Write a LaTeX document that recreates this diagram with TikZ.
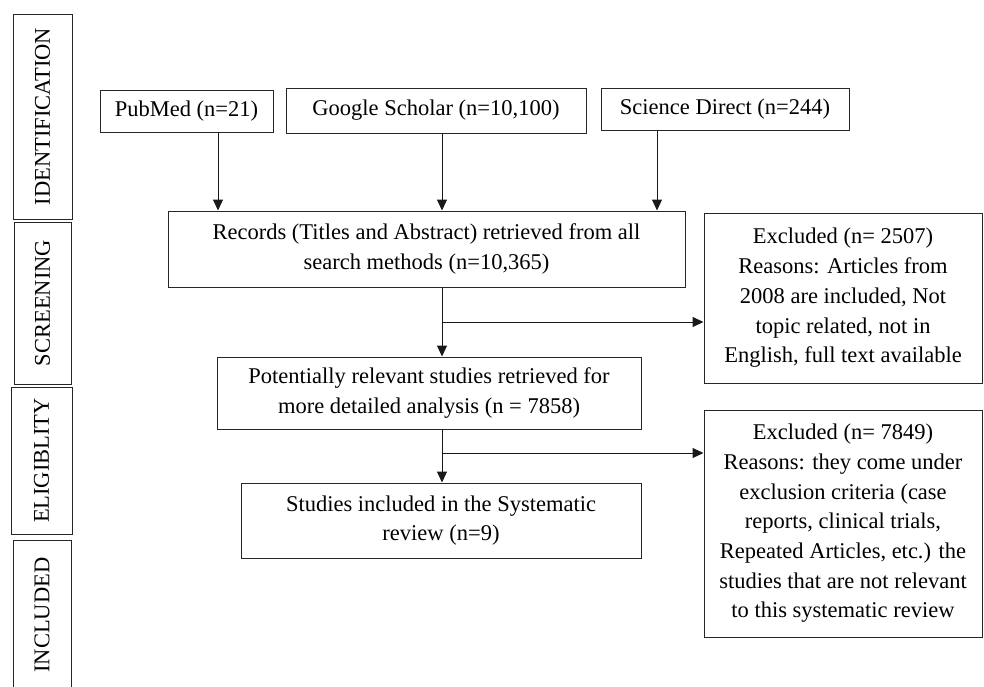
\documentclass[tikz,border=0pt]{standalone}
\usepackage{fontspec}
\setmainfont{Liberation Serif}
\usetikzlibrary{arrows.meta}
\begin{document}
\begin{tikzpicture}[x=1pt,y=-1pt,
  box/.style={draw=black!85, line width=1pt, inner sep=0pt, align=center,
    font=\fontsize{22.5}{29.7}\selectfont},
  side/.style={box, rotate=90},
  arr/.style={draw=black!90, line width=1pt, -{Triangle[length=11pt,width=10pt]}}]
\useasboundingbox (0,0) rectangle (984,686);
% phase labels
\node[side, minimum width=205, minimum height=59] (ident) at (42.5,116.5) {IDENTIFICATION};
\node[side, minimum width=162, minimum height=57] (scr) at (42.5,303) {SCREENING};
\node[side, minimum width=147, minimum height=61] (eli) at (41.5,460.5) {ELIGIBLITY};
\node[side, minimum width=150, minimum height=58] (inc) at (42,615) {INCLUDED};
% sources
\node[box, minimum width=173, minimum height=42] (pub) at (186.5,111) {PubMed (n=21)};
\node[box, minimum width=300, minimum height=45] (goo) at (436,110.5) {Google Scholar (n=10,100)};
\node[box, minimum width=248, minimum height=42] (sci) at (725,109) {Science Direct (n=244)};
% main flow
\node[box, minimum width=517, minimum height=76] (rec) at (426.5,249)
  {Records (Titles and Abstract) retrieved from all\\search methods (n=10,365)};
\node[box, minimum width=424, minimum height=72] (pot) at (429,393)
  {Potentially relevant studies retrieved for\\more detailed analysis (n = 7858)};
\node[box, minimum width=400, minimum height=75] (stu) at (441,520.5)
  {Studies included in the Systematic\\review (n=9)};
% exclusions
\node[box, minimum width=278, minimum height=170] (exc1) at (843,298)
  {Excluded (n= 2507)\\Reasons: Articles from\\2008 are included, Not\\topic related, not in\\English, full text available};
\node[box, minimum width=278, minimum height=227] (exc2) at (843,523.5)
  {Excluded (n= 7849)\\Reasons: they come under\\exclusion criteria (case\\reports, clinical trials,\\Repeated Articles, etc.) the\\studies that are not relevant\\to this systematic review};
% connector guides
\coordinate (a1) at (218,0);
\coordinate (a2) at (442,0);
\coordinate (a3) at (657,0);
\coordinate (b1) at (442,322);
\coordinate (b2) at (442,453);
% connectors
\draw[arr] (pub.south -| a1) -- (rec.north -| a1);
\draw[arr] (goo.south -| a2) -- (rec.north -| a2);
\draw[arr] (sci.south -| a3) -- (rec.north -| a3);
\draw[arr] (rec.south -| b1) -- (pot.north -| b1);
\draw[arr] (b1) -- (b1 -| exc1.west);
\draw[arr] (pot.south -| b2) -- (stu.north -| b2);
\draw[arr] (b2) -- (b2 -| exc2.west);
\end{tikzpicture}
\end{document}
